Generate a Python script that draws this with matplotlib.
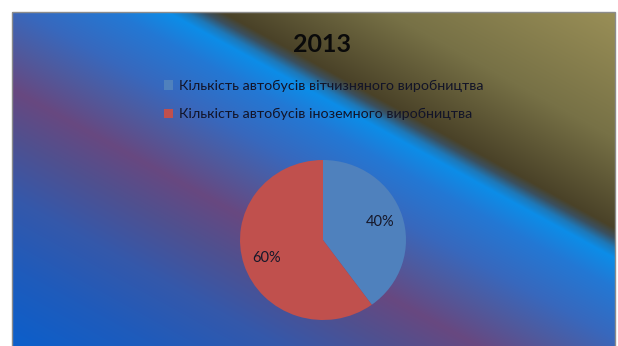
import numpy as np
import matplotlib
matplotlib.use("Agg")
import matplotlib.pyplot as plt
from matplotlib.colors import to_rgb
from matplotlib.patches import Rectangle

plt.rcParams['font.family'] = ['Lato', 'DejaVu Sans']

# Data
title = "2013"
categories = ["Кількість автобусів вітчизняного виробництва",
              "Кількість автобусів іноземного виробництва"]
shares = [40, 60]
slice_colors = ["#4f81bd", "#c0504d"]

W, H = 618, 346
fig = plt.figure(figsize=(W / 100, H / 100), dpi=100)
fig.patch.set_facecolor("white")

# Background: diagonal multi-stop gradient filling the chart area
bg = fig.add_axes([0, 0, 1, 1])
bg.set_xlim(0, W)
bg.set_ylim(H, 0)
bg.axis("off")

x0, x1, y0, y1 = 12, 615, 12, 346
xs = np.arange(x0, x1) + 0.5
ys = np.arange(y0, y1) + 0.5
X, Y = np.meshgrid(xs, ys)
S = 0.55 * X - Y  # position across the diagonal bands

stops = [(-345, "#0a5fcc"), (-260, "#1f5bbb"), (-190, "#3558aa"),
         (-130, "#50508f"), (-83, "#684880"), (-40, "#4f5a9e"),
         (0, "#3868bd"), (50, "#2378d4"), (80, "#0c8de8"),
         (90, "#1e78b8"), (100, "#3a5060"), (110, "#4a4228"),
         (200, "#777146"), (335, "#9c9158")]
sv = np.array([s for s, _ in stops], dtype=float)
cv = np.array([to_rgb(c) for _, c in stops])
img = np.stack([np.interp(S, sv, cv[:, k]) for k in range(3)], axis=-1)
bg.imshow(img, extent=(x0, x1, y1, y0), interpolation="bilinear", zorder=0)
bg.add_patch(Rectangle((x0, y0), x1 - x0, y1 - y0 + 5, fill=False,
                       edgecolor="#8c8c8c", linewidth=1.0, zorder=1))

# Pie
cx, cy, rx, ry = 323, 240, 83, 80
ax = fig.add_axes([(cx - rx) / W, 1 - (cy + ry) / H, 2 * rx / W, 2 * ry / H])
wedges, _, autotexts = ax.pie(
    shares, colors=slice_colors, startangle=90, counterclock=False,
    autopct=lambda p: f"{p:.0f}%", pctdistance=0.72,
    wedgeprops=dict(linewidth=0),
    textprops=dict(fontsize=10.5, color="#16182a"))
ax.set_aspect("auto")
ax.set_xlim(-1, 1)
ax.set_ylim(-1, 1)
ax.axis("off")

# Title
fig.text(322 / W, 1 - 44 / H, title, ha="center", va="center",
         fontsize=18, fontweight="bold", color="#0a0a0a")

# Legend
fig.legend(wedges, categories, loc="upper left",
           bbox_to_anchor=(164 / W, 1 - 80 / H), frameon=False,
           fontsize=10.3, labelcolor="#121428",
           handlelength=0.65, handleheight=0.65, handletextpad=0.4,
           labelspacing=1.13, borderpad=0, borderaxespad=0)

fig.savefig("out.png", dpi=100)
